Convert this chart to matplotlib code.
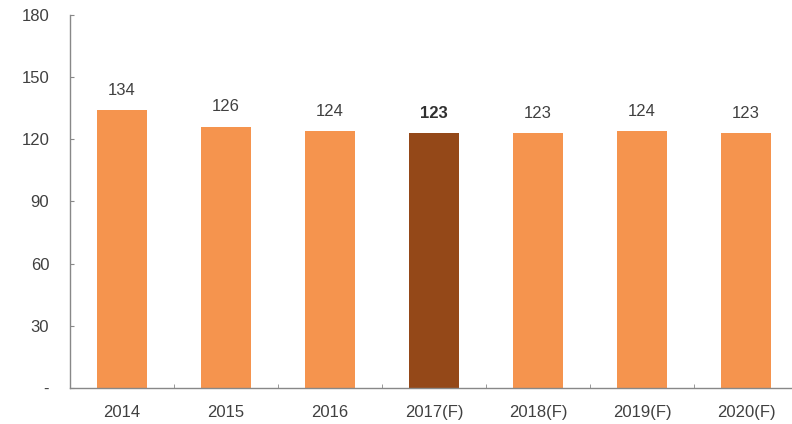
import matplotlib
matplotlib.use("Agg")
import matplotlib.pyplot as plt

categories = ["2014", "2015", "2016", "2017(F)", "2018(F)", "2019(F)", "2020(F)"]
values = [134, 126, 124, 123, 123, 124, 123]
highlight = "2017(F)"
y_ticks = [0, 30, 60, 90, 120, 150, 180]
y_tick_labels = ["-", "30", "60", "90", "120", "150", "180"]

plt.rcParams['font.family'] = ['Liberation Sans', 'DejaVu Sans']
text_color = "#404040"

fig = plt.figure(figsize=(7.92, 4.24), dpi=100)
ax = fig.add_axes([70/792, (424-388)/424, (798-70)/792, (388-15)/424])

orange = "#F5944E"
dark = "#944818"
colors = [dark if c == highlight else orange for c in categories]
x = range(len(categories))
bars = ax.bar(x, values, width=0.48, color=colors, zorder=2)

for i, (c, v) in enumerate(zip(categories, values)):
    ax.text(i, v + 6, str(v), ha="center", va="bottom", fontsize=12,
            color="#303030" if c == highlight else text_color,
            fontweight="bold" if c == highlight else "normal")

ax.set_xlim(-0.5, 6.5)
ax.set_ylim(0, 180)
ax.set_yticks(y_ticks)
ax.set_yticklabels(y_tick_labels, fontsize=12, color=text_color)
ax.set_xticks(list(x))
ax.set_xticklabels(categories, fontsize=12, color=text_color)
ax.tick_params(axis="x", length=0, pad=12)
ax.set_xticks([i + 0.5 for i in range(len(categories) - 1)], minor=True)
ax.tick_params(axis="x", which="minor", direction="in", length=3, color="#888888")
ax.tick_params(axis="y", direction="in", length=3, color="#888888", pad=15)

for s in ["top", "right"]:
    ax.spines[s].set_visible(False)
for s in ["left", "bottom"]:
    ax.spines[s].set_color("#888888")
    ax.spines[s].set_linewidth(1.0)

fig.savefig("out.png", dpi=100)
